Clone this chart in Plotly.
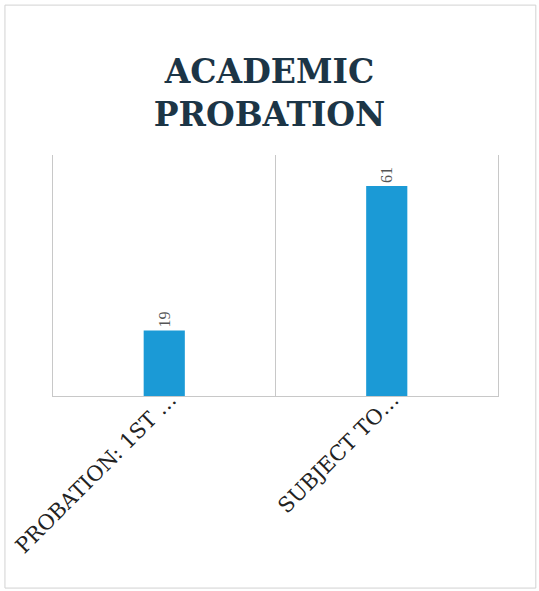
import plotly.graph_objects as go

categories = ["PROBATION: 1ST …", "SUBJECT TO…"]
counts = [19, 61]

fig = go.Figure(
    go.Bar(
        x=categories,
        y=counts,
        width=0.185,
        marker=dict(color="#1b9ad6", line=dict(width=0)),
        text=counts,
        textposition="outside",
        textangle=-90,
        textfont=dict(family="Liberation Serif", size=16, color="#555555"),
        cliponaxis=False,
    )
)

fig.update_layout(
    width=539,
    height=591,
    paper_bgcolor="white",
    plot_bgcolor="white",
    margin=dict(l=53, r=41, t=155, b=195),
    showlegend=False,
    title=dict(
        text="<b>ACADEMIC<br>PROBATION</b>",
        x=0.5,
        xanchor="center",
        y=0.86,
        yanchor="top",
        font=dict(family="DejaVu Serif", size=33, color="#1c3546"),
    ),
    # thin frame round the whole chart
    shapes=[
        dict(type="rect", xref="paper", yref="paper", x0=-0.108, x1=1.085,
             y0=-0.797, y1=1.622, line=dict(color="#d2d2d2", width=1)),
    ],
)

fig.update_xaxes(
    tickson="boundaries",
    automargin=False,
    showgrid=True,
    gridcolor="#c8c8c8",
    gridwidth=1,
    showline=True,
    linecolor="#c8c8c8",
    ticks="",
    tickangle=-45,
    ticklabelstandoff=-18,
    ticklabelshift=6,
    tickfont=dict(family="DejaVu Serif", size=21, color="#222222"),
)
fig.update_yaxes(
    range=[0, 70],
    showgrid=False,
    showticklabels=False,
    zeroline=False,
    showline=True,
    mirror=True,
    linecolor="#c8c8c8",
)

fig.write_html("out.html", config={"displayModeBar": False},
               post_script="document.body.style.margin='0px';")
